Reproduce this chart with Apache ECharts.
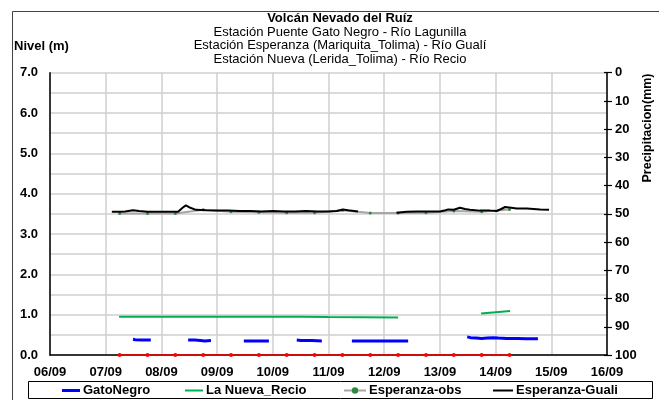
<!DOCTYPE html>
<html><head><meta charset="utf-8">
<script src="https://cdn.jsdelivr.net/npm/echarts@6/dist/echarts.min.js"></script>
<style>html,body{margin:0;padding:0;background:#fff}#c{width:659px;height:400px}</style>
</head><body><div id="c"></div>
<script>
// x values are days after 06/09 00:00
const dayLabels = ['06/09','07/09','08/09','09/09','10/09','11/09','12/09','13/09','14/09','15/09','16/09'];
const titleLines = ['Estación Puente Gato Negro - Río Lagunilla','Estación Esperanza (Mariquita_Tolima) - Río Gualí','Estación Nueva (Lerida_Tolima) - Río Recio'];

const gatoNegroSegments = [
  [[1.49,0.39],[1.53,0.38],[1.65,0.37],[1.81,0.37]],
  [[2.48,0.37],[2.6,0.37],[2.7,0.36],[2.78,0.35],[2.89,0.36]],
  [[3.48,0.35],[3.7,0.35],[3.93,0.35]],
  [[4.43,0.37],[4.5,0.36],[4.7,0.36],[4.88,0.35]],
  [[5.42,0.35],[5.9,0.35],[6.43,0.35]],
  [[7.49,0.45],[7.55,0.43],[7.65,0.42],[7.75,0.41],[7.85,0.42],[7.95,0.43],[8.05,0.42],[8.2,0.41],[8.4,0.41],[8.55,0.40],[8.76,0.40]]
];
const laNuevaSegments = [
  [[1.24,0.95],[3.5,0.95],[4.5,0.95],[5.0,0.94],[6.25,0.93]],
  [[7.74,1.03],[8.26,1.09]]
];
const esperanzaObs = [
  [1.25,3.51],[1.75,3.51],[2.25,3.51],[2.75,3.60],[3.25,3.55],[3.75,3.54],[4.25,3.53],[4.75,3.53],
  [5.25,3.59],[5.75,3.52],[6.25,3.52],[6.75,3.53],[7.25,3.57],[7.75,3.55],[8.25,3.61]
];
const esperanzaGualiSegments = [
  [[1.11,3.55],[1.25,3.55],[1.35,3.56],[1.49,3.59],[1.6,3.57],[1.75,3.55],[2.0,3.55],[2.3,3.55],[2.38,3.65],[2.44,3.71],[2.52,3.65],
   [2.62,3.60],[2.8,3.59],[3.0,3.58],[3.2,3.58],[3.4,3.57],[3.6,3.57],[3.8,3.56],[4.0,3.57],[4.2,3.56],[4.4,3.56],[4.6,3.57],
   [4.8,3.56],[5.0,3.56],[5.15,3.57],[5.26,3.61],[5.35,3.59],[5.53,3.56]],
  [[6.22,3.53],[6.4,3.55],[6.59,3.56],[6.8,3.56],[7.0,3.56],[7.1,3.59],[7.15,3.61],[7.25,3.60],[7.36,3.65],[7.45,3.62],[7.54,3.60],
   [7.72,3.58],[7.9,3.58],[8.02,3.57],[8.1,3.62],[8.17,3.67],[8.28,3.65],[8.38,3.63],[8.56,3.63],[8.8,3.61],[8.96,3.60]]
];
const precipitacion = [
  [1.25,0],[1.75,0],[2.25,0],[2.75,0],[3.25,0],[3.75,0],[4.25,0],[4.75,0],[5.25,0],[5.75,0],[6.25,0],[6.75,0],[7.25,0],[7.75,0],[8.25,0]
];

function joinSegments(segs){
  const out = [];
  segs.forEach((s,i)=>{ if(i>0) out.push([s[0][0]-0.01,null]); s.forEach(p=>out.push(p)); });
  return out;
}

const FONT = "'Liberation Sans', Arial, sans-serif";
const chart = echarts.init(document.getElementById('c'));
const bold13 = {color:'#000', fontFamily:FONT, fontWeight:'bold', fontSize:13};
const legendText = {color:'#000', fontFamily:FONT, fontWeight:'bold', fontSize:13, padding:[0,0,0,-2]};

chart.setOption({
  animation:false,
  backgroundColor:'#fff',
  title:[
    {text:'Volcán Nevado del Ruíz', left:340, textAlign:'center', top:11, padding:0,
     textStyle:{fontFamily:FONT, fontWeight:'bold', fontSize:13, lineHeight:14, color:'#000'}},
    {text:titleLines[0], left:340, textAlign:'center', top:25, padding:0,
     textStyle:{fontFamily:FONT, fontWeight:'normal', fontSize:13, lineHeight:14, color:'#000'}},
    {text:titleLines[1], left:340, textAlign:'center', top:38.5, padding:0,
     textStyle:{fontFamily:FONT, fontWeight:'normal', fontSize:13, lineHeight:14, color:'#000'}},
    {text:titleLines[2], left:340, textAlign:'center', top:52, padding:0,
     textStyle:{fontFamily:FONT, fontWeight:'normal', fontSize:13, lineHeight:14, color:'#000'}}
  ],
  legend:[
    {data:['GatoNegro'], left:62, top:384, padding:0, icon:'rect', itemWidth:18, itemHeight:3, textStyle:legendText},
    {data:['La Nueva_Recio'], left:185, top:384, padding:0, icon:'rect', itemWidth:18, itemHeight:2, textStyle:legendText},
    {data:['Esperanza-obs'], left:343, top:384, padding:0, itemWidth:22, itemHeight:8, textStyle:legendText},
    {data:['Esperanza-Guali'], left:493, top:384, padding:0, icon:'rect', itemWidth:20, itemHeight:2, textStyle:legendText}
  ],
  graphic:[
    {type:'rect', shape:{x:12.5, y:11.5, width:700, height:450}, style:{fill:'none', stroke:'#444', lineWidth:1}, z:-1},
    {type:'rect', shape:{x:28.5, y:381.5, width:624, height:17}, style:{fill:'none', stroke:'#000', lineWidth:1}},
    {type:'text', left:14, top:40, style:{text:'Nivel (m)', font:"bold 13px 'Liberation Sans', Arial, sans-serif", fill:'#000'}},
    {type:'text', x:648, y:128, rotation:Math.PI/2, style:{text:'Precipitacion(mm)', font:"bold 12.5px 'Liberation Sans', Arial, sans-serif", fill:'#000', align:'center', verticalAlign:'middle'}}
  ],
  grid:{left:50, right:52, top:72.7, bottom:45, containLabel:false},
  xAxis:{type:'value', min:0, max:10, interval:1,
    axisLine:{show:true, lineStyle:{color:'#000', width:1.5}},
    axisTick:{show:false},
    axisLabel:Object.assign({margin:11, showMinLabel:true, showMaxLabel:true, formatter:v=>dayLabels[Math.round(v)]}, bold13),
    splitLine:{show:true, lineStyle:{color:'#cfcfcf', width:1.5}}},
  yAxis:[
    {type:'value', min:0, max:7, interval:0.5, position:'left',
     axisLine:{show:true, lineStyle:{color:'#000', width:1.5}},
     axisTick:{show:false},
     axisLabel:Object.assign({margin:12, formatter:v=>Number.isInteger(v)?v.toFixed(1):''}, bold13),
     splitLine:{show:true, lineStyle:{color:'#cfcfcf', width:1.5}}},
    {type:'value', min:0, max:100, interval:10, position:'right', inverse:true,
     axisLine:{show:true, lineStyle:{color:'#000', width:1.5}},
     axisTick:{show:true, length:5, lineStyle:{color:'#000', width:1.2}},
     axisLabel:Object.assign({margin:8}, bold13),
     splitLine:{show:false}},
    {type:'value', min:0, max:100, interval:10, position:'right', inverse:true, offset:0,
     axisLine:{show:false},
     axisTick:{show:true, inside:true, length:3, lineStyle:{color:'#000', width:1.2}},
     axisLabel:{show:false},
     splitLine:{show:false}}
  ],
  series:[
    {name:'GatoNegro', type:'line', yAxisIndex:0, data:joinSegments(gatoNegroSegments), showSymbol:false, symbol:'none',
     connectNulls:false, lineStyle:{color:'#0000ff', width:3}, itemStyle:{color:'#0000ff'}, z:5},
    {name:'La Nueva_Recio', type:'line', yAxisIndex:0, data:joinSegments(laNuevaSegments), showSymbol:false, symbol:'none',
     connectNulls:false, lineStyle:{color:'#00b050', width:2}, itemStyle:{color:'#00b050'}, z:4},
    {name:'Esperanza-obs', type:'line', yAxisIndex:0, data:esperanzaObs, symbol:'circle', symbolSize:3,
     lineStyle:{color:'#a6a6a6', width:2}, itemStyle:{color:'#2e8b3e'}, z:3},
    {name:'Esperanza-Guali', type:'line', yAxisIndex:0, data:joinSegments(esperanzaGualiSegments), showSymbol:false, symbol:'none',
     connectNulls:false, lineStyle:{color:'#000', width:2}, itemStyle:{color:'#000'}, z:4},
    {name:'Precipitacion', type:'line', yAxisIndex:0, data:precipitacion, symbol:'circle', symbolSize:4, clip:false,
     lineStyle:{color:'#ff0000', width:1.5}, itemStyle:{color:'#ff0000'}, z:6}
  ]
});
</script></body></html>
